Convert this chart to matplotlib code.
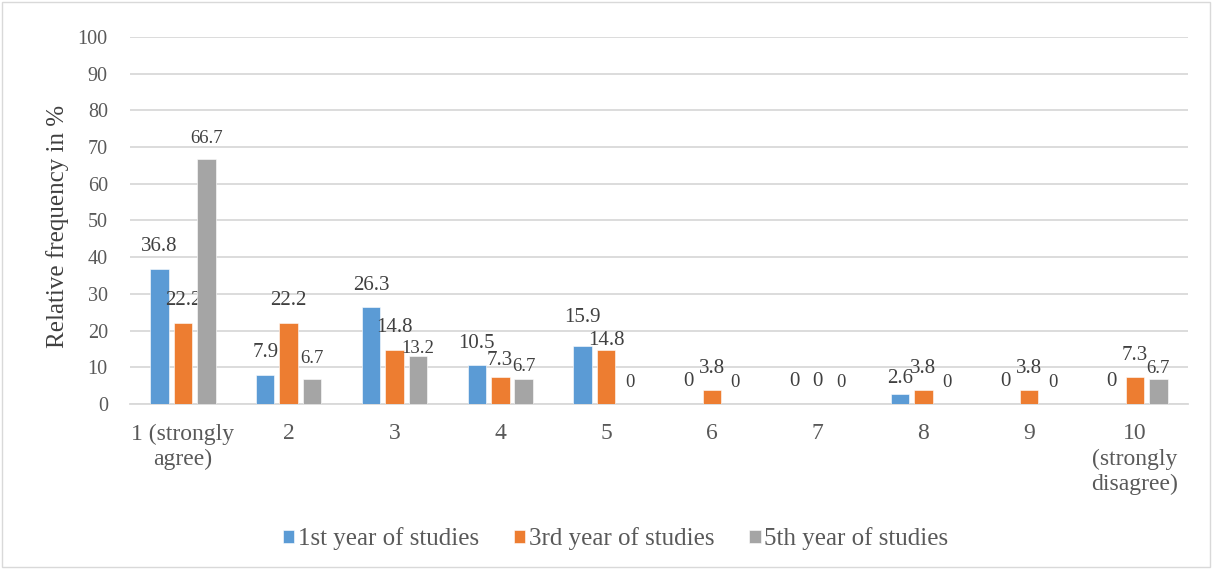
import numpy as np
import matplotlib
matplotlib.use("Agg")
import matplotlib.pyplot as plt
from matplotlib.patches import Rectangle

plt.rcParams['font.family'] = ['Liberation Serif', 'DejaVu Serif']

# Antworten auf der Skala 1..10
categories = ['1 (strongly\nagree)', '2', '3', '4', '5', '6', '7', '8', '9',
              '10\n(strongly\ndisagree)']
year1 = [36.8, 7.9, 26.3, 10.5, 15.9, 0, 0, 2.6, 0, 0]
year3 = [22.2, 22.2, 14.8, 7.3, 14.8, 3.8, 0, 3.8, 3.8, 7.3]
year5 = [66.7, 6.7, 13.2, 6.7, 0, 0, 0, 0, 0, 6.7]
series_names = ['1st year of studies', '3rd year of studies', '5th year of studies']
colors = ['#5B9BD5', '#ED7D31', '#A5A5A5']
label_sizes = [15, 15, 13.5]

# einzelne Beschriftungen verschieben, damit sie sich nicht überdecken (Punkte)
label_shift = {(0, 4): 4.5, (1, 4): -9.5, (2, 2): -10, (1, 3): -3.5,
               (2, 3): -6, (0, 7): -4.5, (2, 9): -7}

fig = plt.figure(figsize=(12.12, 5.69), dpi=100)
ax = fig.add_axes([0.1073, 0.290, 0.8727, 0.645])

x = np.arange(len(categories))
width = 0.175
step = 0.222

for i, (vals, name, col, fs) in enumerate(zip([year1, year3, year5], series_names, colors, label_sizes)):
    pos = x + (i - 1) * step
    bars = ax.bar(pos, vals, width, color=col, label=name,
                  edgecolor='white', linewidth=0.4, zorder=3)
    for j, (b, v) in enumerate(zip(bars, vals)):
        dy = 9 + label_shift.get((i, j), 0)
        ax.annotate(f'{v:g}', (b.get_x() + b.get_width() / 2, v),
                    xytext=(0, dy), textcoords='offset points',
                    ha='center', va='bottom', fontsize=fs, color='#404040')

ax.set_ylim(0, 100)
ax.set_xlim(-0.5, len(categories) - 0.5)
ax.set_yticks(range(0, 101, 10))
ax.set_xticks(x)
ax.set_xticklabels(categories, fontsize=17, linespacing=1.25)
ax.tick_params(axis='both', length=0, labelcolor='#595959')
ax.tick_params(axis='y', labelsize=14.5, pad=16)
ax.tick_params(axis='x', pad=14)
ax.grid(axis='y', color='#d9d9d9', linewidth=1.3, zorder=0)
for s in ['top', 'right', 'left']:
    ax.spines[s].set_visible(False)
ax.spines['bottom'].set_color('#d9d9d9')
ax.spines['bottom'].set_linewidth(1.3)
ax.set_ylabel('Relative frequency in %', fontsize=18, color='#404040')
ax.yaxis.set_label_coords(-0.058, 0.484)

fig.legend(loc='center', bbox_to_anchor=(0.508, 0.053), ncol=3, frameon=False,
           fontsize=18, handlelength=0.45, handleheight=0.45, handletextpad=0.15,
           columnspacing=1.4, labelcolor='#595959')

fig.patches.append(Rectangle((0.002, 0.003), 0.996, 0.994, transform=fig.transFigure,
                             fill=False, edgecolor='#d9d9d9', linewidth=1))

fig.savefig('out.png', dpi=100)
